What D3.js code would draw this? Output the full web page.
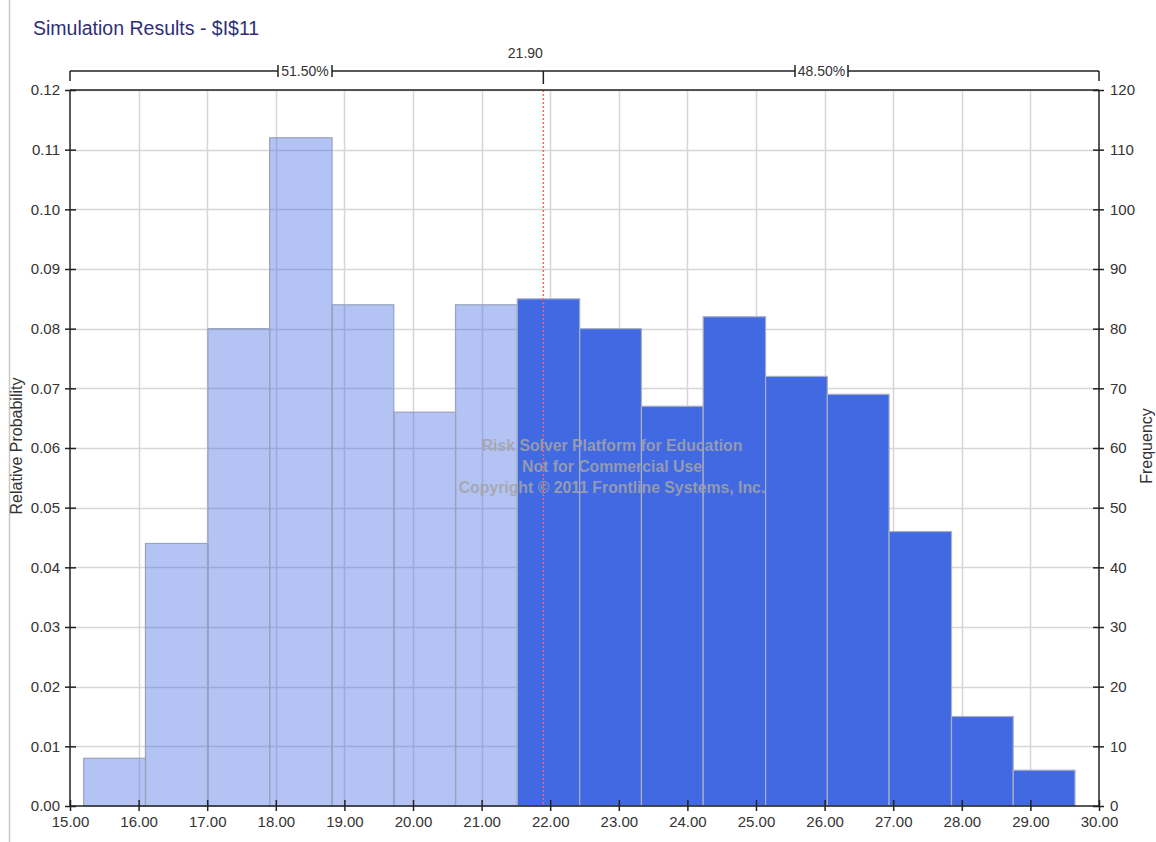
<!DOCTYPE html>
<html><head><meta charset="utf-8">
<script src="https://cdn.jsdelivr.net/npm/d3@7"></script>
<style>body{margin:0;background:#fff;} text{font-family:"Liberation Sans",Arial,sans-serif;}</style>
</head><body>
<svg id="c" width="1156" height="842"></svg>
<script>
const binEdges = [15.20,16.10,17.01,17.91,18.82,19.72,20.62,21.52,22.43,23.33,24.23,25.14,26.04,26.94,27.85,28.75,29.65];
const relProb = [0.008,0.044,0.080,0.112,0.084,0.066,0.084,0.085,0.080,0.067,0.082,0.072,0.069,0.046,0.015,0.006];
const xTicks = [15,16,17,18,19,20,21,22,23,24,25,26,27,28,29,30];
const yTicks = [0,0.01,0.02,0.03,0.04,0.05,0.06,0.07,0.08,0.09,0.10,0.11,0.12];
const freqTicks = [0,10,20,30,40,50,60,70,80,90,100,110,120];
const marker = 21.90;
const leftPct = "51.50%", rightPct = "48.50%";
const title = "Simulation Results - $I$11";
const watermark = ["Risk Solver Platform for Education","Not for Commercial Use","Copyright © 2011 Frontline Systems, Inc."];

const svg = d3.select("#c");
const L=70, R=1099, T=90, B=806;
const x = d3.scaleLinear().domain([15,30]).range([L,R]);
const y = d3.scaleLinear().domain([0,0.12]).range([B,T]);
const yf = d3.scaleLinear().domain([0,120]).range([B,T]);

// window border
svg.append("line").attr("x1",9.5).attr("x2",9.5).attr("y1",0).attr("y2",842).attr("stroke","#c8c8c8").attr("stroke-width",1.5);

svg.append("text").attr("x",33).attr("y",35).attr("font-size",19.5).attr("fill","#2e2e78").text(title);

// grid
const g = svg.append("g");
g.selectAll(".hg").data(yTicks.slice(1)).join("line")
  .attr("x1",L).attr("x2",R).attr("y1",d=>Math.round(y(d))+0.5).attr("y2",d=>Math.round(y(d))+0.5)
  .attr("stroke","#d6d6d6").attr("stroke-width",1.5);
g.selectAll(".vg").data(xTicks.slice(1,-1)).join("line")
  .attr("x1",d=>Math.round(x(d))+0.5).attr("x2",d=>Math.round(x(d))+0.5).attr("y1",T).attr("y2",B)
  .attr("stroke","#d6d6d6").attr("stroke-width",1.5);

// bars
const bins = relProb.map((p,i)=>({x0:binEdges[i],x1:binEdges[i+1],p}));
const isLeft = d => d.x1 <= marker;
svg.append("g").selectAll("rect").data(bins).join("rect")
  .attr("x",d=>x(d.x0)).attr("width",d=>x(d.x1)-x(d.x0))
  .attr("y",d=>y(d.p)).attr("height",d=>B-y(d.p))
  .attr("fill","#4169e1")
  .attr("fill-opacity",d=>isLeft(d)?0.4:1)
  .attr("stroke",d=>isLeft(d)?"#9aa2bc":"#a8b0c8").attr("stroke-width",1.2);

// watermark
svg.append("g").selectAll("text").data(watermark).join("text")
  .attr("x",612).attr("y",(d,i)=>451+i*21).attr("text-anchor","middle")
  .attr("font-size",15.8).attr("font-weight","bold").attr("fill","#a4a4a8").attr("fill-opacity",0.85).text(d=>d);

// marker line
svg.append("line").attr("x1",x(marker)).attr("x2",x(marker)).attr("y1",T).attr("y2",B)
  .attr("stroke","#ff6060").attr("stroke-width",1.5).attr("stroke-dasharray","2,2");

// axes
const axL = svg.append("g").attr("transform",`translate(${L},0)`)
  .call(d3.axisLeft(y).tickValues(yTicks).tickFormat(d3.format(".2f")).tickSize(5).tickPadding(5));
const axR = svg.append("g").attr("transform",`translate(${R},0)`)
  .call(d3.axisRight(yf).tickValues(freqTicks).tickFormat(d3.format("d")).tickSize(5).tickPadding(6));
const axB = svg.append("g").attr("transform",`translate(0,${B})`)
  .call(d3.axisBottom(x).tickValues(xTicks).tickFormat(d3.format(".2f")).tickSize(5).tickPadding(5));
[axL,axR,axB].forEach(a=>{
  a.select(".domain").attr("stroke","#222").attr("stroke-width",1.5);
  a.selectAll(".tick line").attr("stroke","#222").attr("stroke-width",1.5);
  a.selectAll(".tick text").attr("font-size",15).attr("fill","#333")
    .attr("font-family","Liberation Sans, Arial, sans-serif");
});
// ticks cross the axis
axL.selectAll(".tick line").attr("x1",6);
axR.selectAll(".tick line").attr("x1",-6);
axB.selectAll(".tick line").attr("y1",-6);
axL.select(".domain").attr("d",`M0,${T}V${B}`);
axR.select(".domain").attr("d",`M0,${T}V${B}`);
axB.select(".domain").attr("d",`M${L},0H${R}`);
// top frame
svg.append("line").attr("x1",L).attr("x2",R).attr("y1",T).attr("y2",T).attr("stroke","#222").attr("stroke-width",1.5);

// axis titles
svg.append("text").attr("transform",`translate(22,446) rotate(-90)`).attr("text-anchor","middle")
  .attr("font-size",16).attr("fill","#333").text("Relative Probability");
svg.append("text").attr("transform",`translate(1152,446) rotate(-90)`).attr("text-anchor","middle")
  .attr("font-size",16).attr("fill","#333").text("Frequency");

// top bracket
const by = 71;
const br = svg.append("g").attr("stroke","#222").attr("stroke-width",1.5);
const lp1 = 278, lp2 = 332, rp1 = 795, rp2 = 848;
br.append("line").attr("x1",L).attr("x2",lp1).attr("y1",by).attr("y2",by);
br.append("line").attr("x1",lp2).attr("x2",rp1).attr("y1",by).attr("y2",by);
br.append("line").attr("x1",rp2).attr("x2",R).attr("y1",by).attr("y2",by);
br.append("line").attr("x1",L).attr("x2",L).attr("y1",by).attr("y2",81);
br.append("line").attr("x1",R).attr("x2",R).attr("y1",by).attr("y2",81);
br.append("line").attr("x1",x(marker)).attr("x2",x(marker)).attr("y1",by).attr("y2",84);
[lp1,lp2,rp1,rp2].forEach(v=>br.append("line").attr("x1",v).attr("x2",v).attr("y1",by-6).attr("y2",by+6));
svg.append("text").attr("x",(lp1+lp2)/2).attr("y",76).attr("text-anchor","middle").attr("font-size",14).attr("fill","#333").text(leftPct);
svg.append("text").attr("x",(rp1+rp2)/2).attr("y",76).attr("text-anchor","middle").attr("font-size",14).attr("fill","#333").text(rightPct);
svg.append("text").attr("x",x(marker)-18).attr("y",58).attr("text-anchor","middle").attr("font-size",14).attr("fill","#333").text(marker.toFixed(2));
</script>
</body></html>
